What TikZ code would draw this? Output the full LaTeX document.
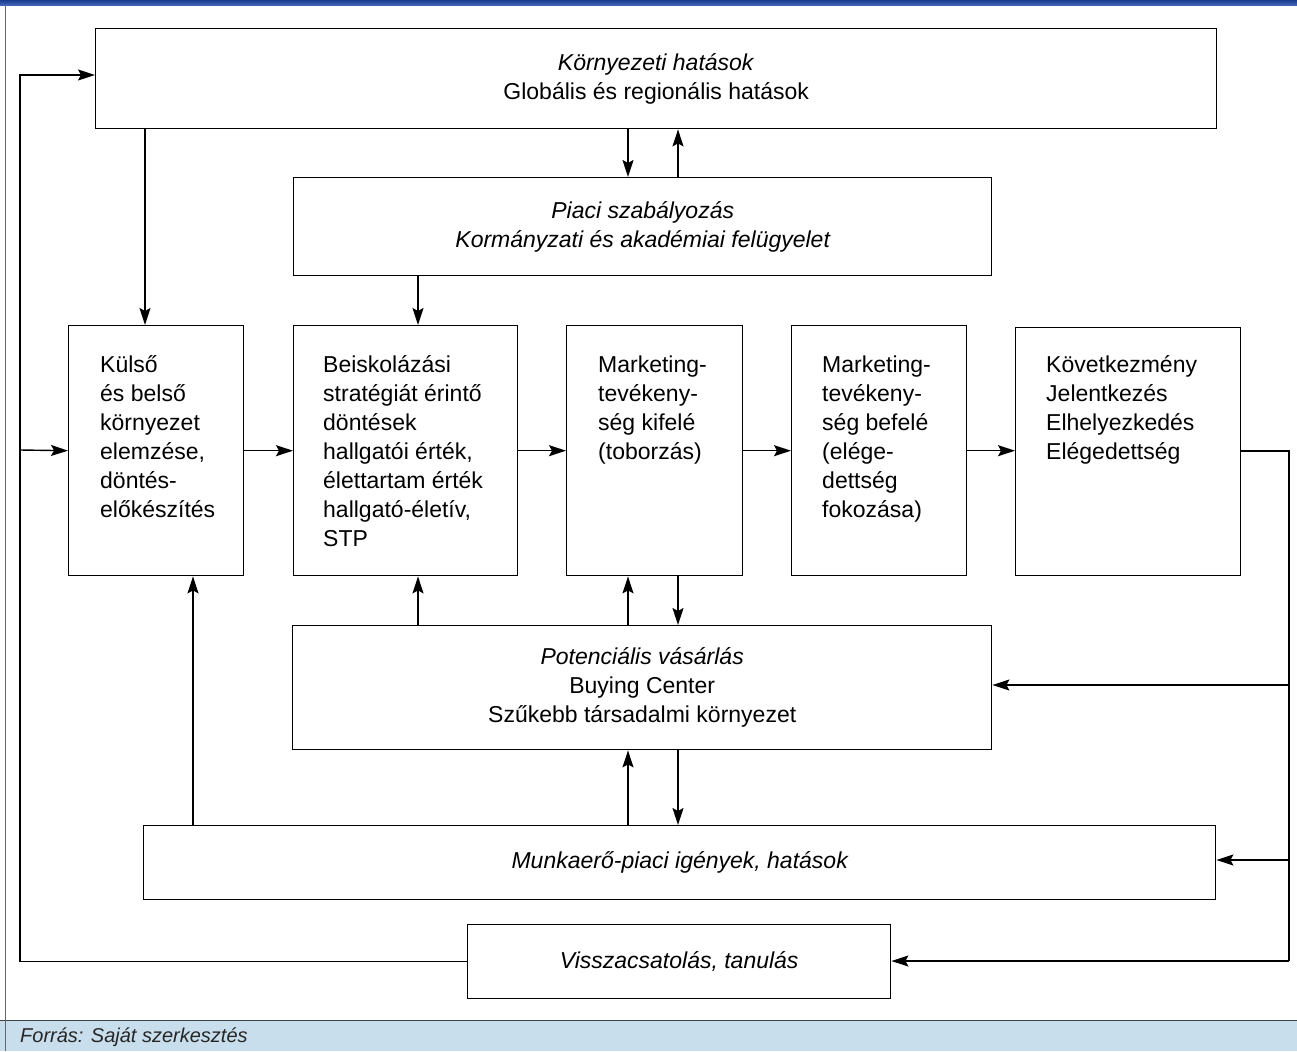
\documentclass[tikz,border=0pt]{standalone}
\usepackage{fontspec}
\setmainfont{Liberation Sans}
\usetikzlibrary{arrows.meta}
\definecolor{barblue}{RGB}{28,58,140}
\definecolor{barblue2}{RGB}{70,110,190}
\definecolor{footblue}{RGB}{200,222,236}
\begin{document}
\begin{tikzpicture}[x=1pt,y=-1pt,
  box/.style={draw, line width=1.4pt, inner sep=0pt, anchor=north west,
    font=\fontsize{23}{29}\selectfont, align=center},
  txt/.style={anchor=north west, inner sep=0pt, align=left,
    font=\fontsize{23}{29}\selectfont},
  arr/.style={line width=1.4pt, -{Stealth[length=17pt,width=11pt,inset=3pt]}},
  ln/.style={line width=1.4pt}]
\useasboundingbox (0,0) rectangle (1297,1051);
% frame
\shade[top color=barblue, bottom color=barblue2] (0,0) rectangle (1297,6);
\fill[footblue] (0,1021) rectangle (1297,1051);
\draw[black!75, line width=1pt] (0,1020) -- (1297,1020);
\draw[black!60, line width=1pt] (5,6) -- (5,1051);
\node[anchor=west, inner sep=0pt, font=\fontsize{20}{22}\selectfont\itshape, text=black!85] (cap) at (20,1037) {Forrás: Saját szerkesztés};
% boxes
\node[box, minimum width=1121pt, minimum height=100pt] (env) at (95,28)
  {\textit{Környezeti hatások}\\Globális és regionális hatások};
\node[box, minimum width=698pt, minimum height=98pt, font=\fontsize{23}{29}\selectfont\itshape] (piaci) at (293,177)
  {Piaci szabályozás\\Kormányzati és akadémiai felügyelet};
\node[box, minimum width=175pt, minimum height=250pt] (b1) at (68,325) {};
\node[box, minimum width=224pt, minimum height=250pt] (b2) at (293,325) {};
\node[box, minimum width=176pt, minimum height=250pt] (b3) at (566,325) {};
\node[box, minimum width=175pt, minimum height=250pt] (b4) at (791,325) {};
\node[box, minimum width=225pt, minimum height=248pt] (b5) at (1015,327) {};
\node[txt] (t1) at (100,352) {\strut Külső\\és belső\\környezet\\elemzése,\\döntés-\\előkészítés};
\node[txt] (t2) at (323,352) {\strut Beiskolázási\\stratégiát érintő\\döntések\\hallgatói érték,\\élettartam érték\\hallgató-életív,\\STP};
\node[txt] (t3) at (598,352) {\strut Marketing-\\tevékeny-\\ség kifelé\\(toborzás)};
\node[txt] (t4) at (822,352) {\strut Marketing-\\tevékeny-\\ség befelé\\(elége-\\dettség\\fokozása)};
\node[txt] (t5) at (1046,352) {\strut Következmény\\Jelentkezés\\Elhelyezkedés\\Elégedettség};
\node[box, minimum width=699pt, minimum height=124pt] (pot) at (292,625)
  {\textit{Potenciális vásárlás}\\Buying Center\\Szűkebb társadalmi környezet};
\node[box, minimum width=1072pt, minimum height=74pt, font=\fontsize{23}{29}\selectfont\itshape] (mun) at (143,825)
  {Munkaerő-piaci igények, hatások};
\node[box, minimum width=423pt, minimum height=74pt, font=\fontsize{23}{29}\selectfont\itshape] (vis) at (467,924)
  {Visszacsatolás, tanulás};
% helper x positions
\coordinate (x145) at (145,0);
\coordinate (x193) at (193,0);
\coordinate (x418) at (418,0);
\coordinate (x628) at (628,0);
\coordinate (x678) at (678,0);
\coordinate (rTop) at (1289,451);
\coordinate (rA) at (1289,685);
\coordinate (rB) at (1289,860);
\coordinate (rC) at (1289,961);
\coordinate (lT) at (20,75);
\coordinate (lM) at (20,450);
% vertical connectors
\draw[arr] (env.south -| x145) -- (b1.north -| x145);
\draw[arr] (env.south -| x628) -- (piaci.north -| x628);
\draw[arr] (piaci.north -| x678) -- (env.south -| x678);
\draw[arr] (piaci.south -| x418) -- (b2.north -| x418);
\draw[arr] (pot.north -| x418) -- (b2.south -| x418);
\draw[arr] (pot.north -| x628) -- (b3.south -| x628);
\draw[arr] (b3.south -| x678) -- (pot.north -| x678);
\draw[arr] (mun.north -| x628) -- (pot.south -| x628);
\draw[arr] (pot.south -| x678) -- (mun.north -| x678);
\draw[arr] (mun.north -| x193) -- (b1.south -| x193);
% horizontal connectors
\draw[arr] (b1.east) -- (b2.west |- b1.east);
\draw[arr] (b2.east) -- (b3.west |- b2.east);
\draw[arr] (b3.east) -- (b4.west |- b3.east);
\draw[arr] (b4.east) -- (b5.west |- b4.east);
\draw[arr] (lM) -- (b1.west);
% right feedback
\draw[ln] (b5.east |- rTop) -- (rTop) -- (rC);
\draw[arr] (rA) -- (rA -| pot.east);
\draw[arr] (rB) -- (rB -| mun.east);
\draw[arr] (rC) -- (vis.east |- rC);
% left feedback
\draw[arr] (vis.west) -| (lT) -- (lT -| env.west);
\end{tikzpicture}
\end{document}
